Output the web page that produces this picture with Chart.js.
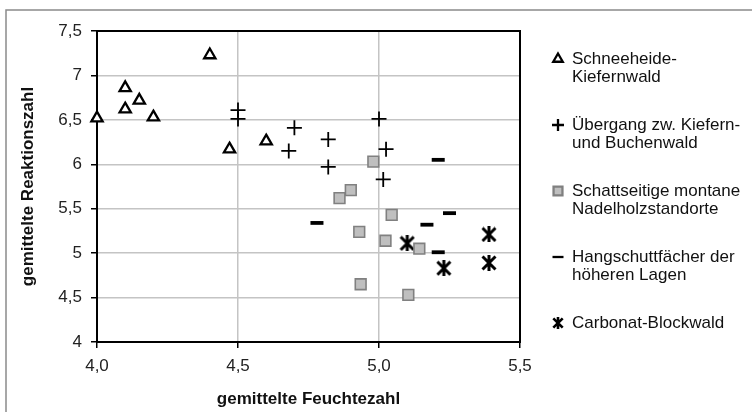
<!DOCTYPE html>
<html>
<head>
<meta charset="utf-8">
<script src="https://cdn.jsdelivr.net/npm/chart.js@4.4.1/dist/chart.umd.min.js"></script>
<style>
html,body{margin:0;padding:0;background:#fff}
</style>
</head>
<body>
<canvas id="myChart" width="752" height="412"></canvas>
<script>
// values
var schneeheideX = [4.0, 4.1, 4.1, 4.15, 4.2, 4.4, 4.47, 4.6];
var schneeheideY = [6.52, 6.86, 6.62, 6.72, 6.53, 7.23, 6.17, 6.26];

var uebergangX = [4.5, 4.5, 4.7, 4.68, 4.82, 4.82, 5.0, 5.025, 5.015];
var uebergangY = [6.61, 6.51, 6.41, 6.15, 6.28, 5.97, 6.51, 6.17, 5.83];

var schattseitigX = [4.98, 4.9, 4.86, 5.045, 4.93, 5.023, 5.143, 4.935, 5.104];
var schattseitigY = [6.03, 5.71, 5.62, 5.43, 5.24, 5.14, 5.05, 4.65, 4.53];

var hangschuttX = [5.21, 4.78, 5.17, 5.25, 5.21];
var hangschuttY = [6.05, 5.34, 5.32, 5.45, 5.01];

var carbonatX = [5.1, 5.23, 5.39, 5.39];
var carbonatY = [5.11, 4.83, 5.21, 4.89];

var seriesLabels = [
    ['Schneeheide-', 'Kiefernwald'],
    ['Übergang zw. Kiefern-', 'und Buchenwald'],
    ['Schattseitige montane', 'Nadelholzstandorte'],
    ['Hangschuttfächer der', 'höheren Lagen'],
    ['Carbonat-Blockwald']
];

var xTickLabels = ['4,0', '4,5', '5,0', '5,5'];
var yTickLabels = ['4', '4,5', '5', '5,5', '6', '6,5', '7', '7,5'];

var xTitle = 'gemittelte Feuchtezahl';
var yTitle = 'gemittelte Reaktionszahl';

var FONT = '"Liberation Sans", Arial, sans-serif';

function pts(xs, ys) {
    return xs.map(function(x, i) { return {x: x, y: ys[i]} });
}

// asterisk marker: X plus vertical bar
function makeStar(size, lw) {
    var c = document.createElement('canvas');
    c.width = size; c.height = size;
    var g = c.getContext('2d');
    g.strokeStyle = '#000';
    g.lineWidth = lw;
    var m = lw / 2;
    g.beginPath();
    g.moveTo(m, m); g.lineTo(size - m, size - m);
    g.moveTo(size - m, m); g.lineTo(m, size - m);
    g.moveTo(size / 2, 0); g.lineTo(size / 2, size);
    g.stroke();
    return c;
}
var starBig = makeStar(16, 3);
var starSmall = makeStar(12, 2.6);

var styles = [
    {pointStyle: 'triangle', radius: 6.5, borderWidth: 2.3, bg: '#fff', border: '#000', lr: 5.5, lw: 2.4},
    {pointStyle: 'cross', radius: 7.5, borderWidth: 1.8, bg: '#000', border: '#000', lr: 6, lw: 2},
    {pointStyle: 'rect', radius: 7.6, borderWidth: 1.6, bg: '#bfbfbf', border: '#808080', lr: 6.3, lw: 1.4},
    {pointStyle: 'line', radius: 6.5, borderWidth: 3.8, bg: '#000', border: '#000', lr: 5.5, lw: 3.2},
    {pointStyle: starBig, radius: 8, borderWidth: 0, bg: '#000', border: '#000', legendImg: starSmall}
];

var allData = [
    pts(schneeheideX, schneeheideY),
    pts(uebergangX, uebergangY),
    pts(schattseitigX, schattseitigY),
    pts(hangschuttX, hangschuttY),
    pts(carbonatX, carbonatY)
];

var datasets = allData.map(function(d, i) {
    var s = styles[i];
    return {
        label: seriesLabels[i].join(' '),
        data: d,
        pointStyle: s.pointStyle,
        pointRadius: s.radius,
        pointBorderWidth: s.borderWidth,
        pointBackgroundColor: s.bg,
        pointBorderColor: s.border,
        showLine: false,
        clip: false
    };
});

var framePlugin = {
    id: 'frame',
    beforeDraw: function(chart) {
        var c = chart.ctx;
        c.save();
        c.fillStyle = '#fff';
        c.fillRect(0, 0, chart.width, chart.height);
        c.strokeStyle = '#8a8a8a';
        c.lineWidth = 1.5;
        c.strokeRect(6, 10, chart.width + 20, chart.height + 20);
        c.restore();
    },
    beforeDatasetsDraw: function(chart) {
        var a = chart.chartArea;
        var c = chart.ctx;
        c.save();
        c.strokeStyle = '#000';
        c.lineWidth = 2;
        c.strokeRect(a.left, a.top, a.right - a.left, a.bottom - a.top);
        c.restore();
    }
};

var legendPlugin = {
    id: 'sideLegend',
    afterDraw: function(chart) {
        var c = chart.ctx;
        c.save();
        c.font = '17px ' + FONT;
        c.textBaseline = 'middle';
        c.textAlign = 'left';
        seriesLabels.forEach(function(lines, i) {
            var y = 59 + i * 66;
            var s = styles[i];
            c.fillStyle = s.bg;
            c.strokeStyle = s.border;
            if (s.legendImg) {
                c.drawImage(s.legendImg, 558 - s.legendImg.width / 2, y - s.legendImg.height / 2);
            } else {
                Chart.helpers.drawPoint(c, {pointStyle: s.pointStyle, radius: s.lr, borderWidth: s.lw, rotation: 0}, 558, y);
            }
            c.fillStyle = '#111';
            lines.forEach(function(t, j) {
                c.fillText(t, 572, y + j * 18.5);
            });
        });
        c.restore();
    }
};

var ctx = document.getElementById('myChart').getContext('2d');
var myChart = new Chart(ctx, {
    type: 'scatter',
    data: {datasets: datasets},
    plugins: [framePlugin, legendPlugin],
    options: {
        responsive: false,
        animation: false,
        events: [],
        layout: {padding: {left: 0, top: 31, right: 232, bottom: 0}},
        plugins: {legend: {display: false}, tooltip: {enabled: false}},
        scales: {
            x: {
                type: 'linear',
                min: 4, max: 5.5,
                afterFit: function(s) { s.height = 70 },
                ticks: {
                    stepSize: 0.5,
                    padding: 8,
                    color: '#222',
                    font: {family: FONT, size: 17},
                    callback: function(v, i) { return xTickLabels[i] }
                },
                grid: {color: '#c4c4c4', lineWidth: 1.5, tickColor: '#000', tickLength: 6, tickWidth: 1.5},
                border: {color: '#000', width: 2},
                title: {
                    display: true, text: xTitle, color: '#111',
                    font: {family: FONT, size: 17, weight: 'bold'},
                    padding: {top: 0, bottom: 2}
                }
            },
            y: {
                type: 'linear',
                min: 4, max: 7.5,
                afterFit: function(s) { s.width = 97 },
                ticks: {
                    stepSize: 0.5,
                    padding: 9,
                    color: '#222',
                    font: {family: FONT, size: 17},
                    callback: function(v, i) { return yTickLabels[i] }
                },
                grid: {color: '#c4c4c4', lineWidth: 1.5, tickColor: '#000', tickLength: 6, tickWidth: 1.5},
                border: {color: '#000', width: 2},
                title: {
                    display: true, text: yTitle, color: '#111',
                    font: {family: FONT, size: 17, weight: 'bold'},
                    padding: {top: 18, bottom: 0}
                }
            }
        }
    }
});
</script>
</body>
</html>
